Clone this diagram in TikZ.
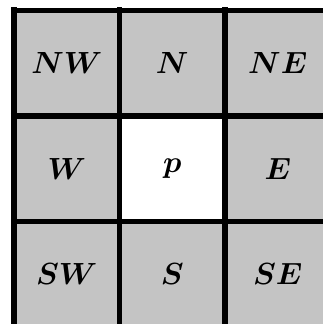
\documentclass[tikz,border=0pt]{standalone}
\usepackage{amsmath}
\usepackage{graphicx}
\usepackage{tikz}
\usetikzlibrary{calc}

\newcommand{\dirtext}[1]{\scalebox{1.23}{$#1$}}
\tikzset{
  cellfill/.style={fill=black!23},
  gridline/.style={line width=5.5pt},
  dirlabel/.style={font=\Huge\boldmath}
}

\begin{document}
\begin{tikzpicture}[x=105.5pt,y=-105.5pt]
    \def\n{3}
    \useasboundingbox (-0.1327,-0.0995) rectangle ++(3.0616,3.0711);
    \fill[cellfill] (0,0) rectangle (\n,\n);
    \fill[white] (1,1) rectangle (2,2);
    \foreach \k in {0,...,\n} {
      \draw[gridline] (\k,-0.03) -- (\k,\n+0.03);
      \draw[gridline] (-0.03,\k) -- (\n+0.03,\k);
    }
    \node[dirlabel] (nw) at (0.5,0.5) {\dirtext{NW}};
    \node[dirlabel] (n)  at (1.5,0.5) {\dirtext{N}};
    \node[dirlabel] (ne) at (2.5,0.5) {\dirtext{NE}};
    \node[dirlabel] (w)  at (0.5,1.5) {\dirtext{W}};
    \node[dirlabel] (p)  at (1.5,1.5) {\dirtext{p}};
    \node[dirlabel] (e)  at (2.5,1.5) {\dirtext{E}};
    \node[dirlabel] (sw) at (0.5,2.5) {\dirtext{SW}};
    \node[dirlabel] (s)  at (1.5,2.5) {\dirtext{S}};
    \node[dirlabel] (se) at (2.5,2.5) {\dirtext{SE}};
  \end{tikzpicture}
\end{document}
